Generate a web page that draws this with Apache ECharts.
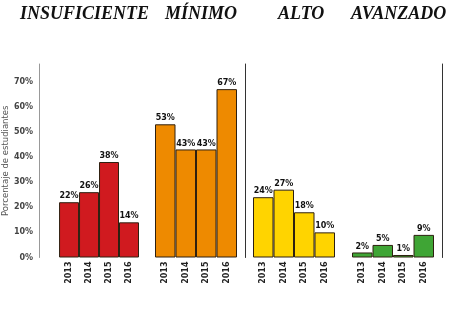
<!DOCTYPE html>
<html><head><meta charset="utf-8">
<script src="https://cdn.jsdelivr.net/npm/echarts@6/dist/echarts.min.js"></script>
<style>html,body{margin:0;padding:0;background:#fff}#c{width:455px;height:313px}</style>
</head><body><div id="c"></div>
<script>
const groups = ['INSUFICIENTE', 'MÍNIMO', 'ALTO', 'AVANZADO'];
const years = ['2013', '2014', '2015', '2016'];
const insuficiente = [22, 26, 38, 14];
const minimo = [53, 43, 43, 67];
const alto = [24, 27, 18, 10];
const avanzado = [2, 5, 1, 9];
const yMax = 77;
const yInterval = 10;
const yName = 'Porcentaje de estudiantes';

const values = [insuficiente, minimo, alto, avanzado];
const colors = ['#d01a1f', '#ee8a00', '#ffd400', '#3fa535'];
const gridLefts = [57, 155, 253, 352];
const titleX = [20, 165, 278, 351];

const chart = echarts.init(document.getElementById('c'), null, {renderer: 'canvas'});
const grid = [], xAxis = [], yAxis = [], series = [];
values.forEach((vals, i) => {
  grid.push({left: gridLefts[i], width: 82, top: 64, bottom: 55.5});
  xAxis.push({
    type: 'category', gridIndex: i, data: years,
    axisLine: {show: false}, axisTick: {show: false},
    axisLabel: {rotate: 90, margin: 4, fontSize: 8, fontWeight: 'bold', color: '#222', fontFamily: 'DejaVu Sans'}
  });
  const ya = {
    type: 'value', gridIndex: i, min: 0, max: yMax, interval: yInterval,
    splitLine: {show: false}, axisTick: {show: false},
    axisLine: {show: i !== 1, lineStyle: {color: '#333', width: 1}},
    axisLabel: {show: false}
  };
  if (i === 0) {
    ya.offset = 20;
    ya.axisLine.lineStyle.color = '#999';
    ya.axisLabel = {show: true, showMaxLabel: false, fontSize: 8, fontWeight: 'bold', color: '#444', margin: 6,
      fontFamily: 'DejaVu Sans', formatter: '{value}%'};
    ya.name = yName;
    ya.nameLocation = 'middle';
    ya.nameGap = 20;
    ya.nameTextStyle = {fontSize: 8.5, color: '#555', fontFamily: 'DejaVu Sans'};
  } else if (i === 2) {
    ya.offset = 8;
  } else if (i === 3) {
    ya.position = 'right';
    ya.offset = 8;
  }
  yAxis.push(ya);
  series.push({
    type: 'bar', xAxisIndex: i, yAxisIndex: i, data: vals, barCategoryGap: '0%', barWidth: '100%',
    itemStyle: {color: colors[i], borderColor: '#2e2010', borderWidth: 1, borderRadius: 0},
    label: {show: true, position: 'top', distance: 2, formatter: '{c}%', fontSize: 8, fontWeight: 'bold',
      color: '#111', fontFamily: 'DejaVu Sans'}
  });
});

const graphic = groups.map((g, i) => ({
  type: 'text', left: titleX[i], top: 5,
  style: {text: g, font: 'italic bold 18px "Liberation Serif"', fill: '#111'}
}));

chart.setOption({animation: false, grid, xAxis, yAxis, series, graphic});
</script>
</body></html>
